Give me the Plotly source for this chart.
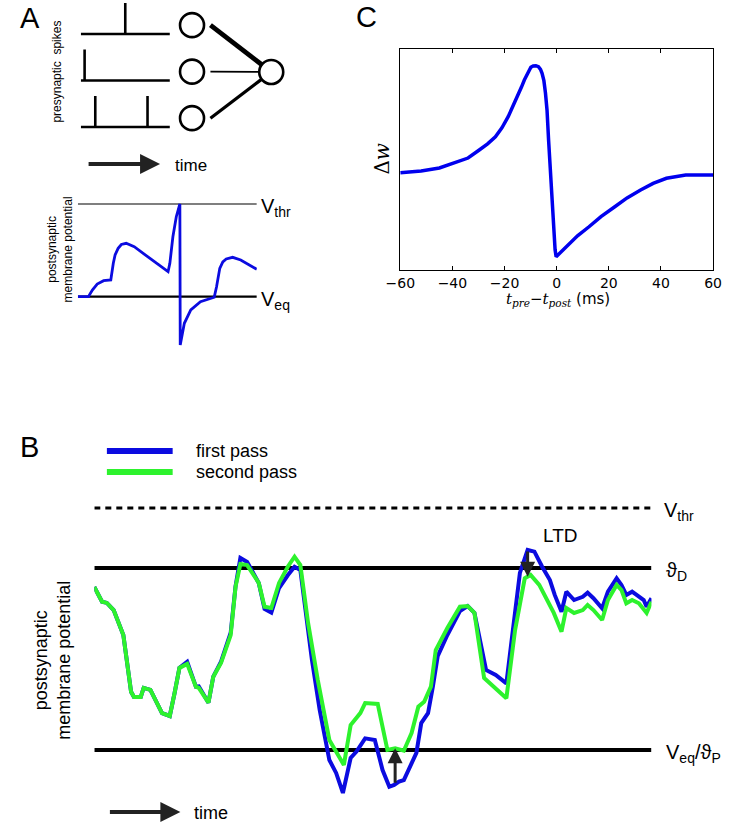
import numpy as np
import plotly.graph_objects as go

W, H = 733, 827
FONT = "Liberation Sans, Arial, sans-serif"
BLUE = "#0b0be0"
GREEN = "#2df22d"
DARK = "#222222"

# ---------------- Panel A (top): presynaptic spike trains ----------------
train_length = 10.0
row_levels = [2, 1, 0]
spike_times = [[5.0], [0.43], [1.63, 7.5]]
spike_height = 0.667
syn_weights = [3.0, 1.0, 2.0]

# ---------------- Panel A (bottom): postsynaptic membrane potential ------
psp_t = [0, 5.9, 8.1, 10.8, 14.4, 18.4, 19.8, 20.8, 22.5, 24.3, 27.0, 31.5, 40.5,
         50.4, 51.4, 53.1, 55.0, 56.8, 57.0, 57.2, 59.5, 63.1, 68.5, 76.2, 77.5,
         79.3, 81.0, 82.9, 86.5, 91.0, 100]
psp_v = [0, 0, 0.072, 0.137, 0.173, 0.180, 0.360, 0.45, 0.522, 0.563, 0.576, 0.539, 0.41,
         0.270, 0.360, 0.647, 0.863, 1.0, 1.0, -0.521, -0.287, -0.143, -0.054, -0.006, 0.108,
         0.306, 0.375, 0.407, 0.425, 0.396, 0.296]
V_eq_A, V_thr_A = 0.0, 1.0

# ---------------- Panel C: STDP window ----------------
stdp_dt = [-60, -52, -45, -39.6, -34, -29.7, -26.5, -23.5, -21, -18.6, -16.7, -14.9, -13.5, -12.4,
           -11.1, -9.9, -9.0, -8.0, -7.0, -6.2, -5.6, -4.9, -4.3, -3.7, -3.1, -2.5, -1.9, -1.2,
           -0.6, -0.2, 2, 4.9, 8, 12.4, 17, 22.3, 27, 32.2, 37, 42.1, 46, 49.5, 55, 60]
stdp_dw = [0.0, 0.016, 0.044, 0.088, 0.137, 0.212, 0.27, 0.336, 0.42, 0.523, 0.62, 0.726, 0.80, 0.866,
           0.935, 0.985, 0.998, 1.0, 0.99, 0.965, 0.929, 0.86, 0.745, 0.586, 0.306, 0.056, -0.255, -0.566,
           -0.72, -0.785, -0.735, -0.660, -0.59, -0.505, -0.41, -0.318, -0.235, -0.162,
           -0.10, -0.052, -0.032, -0.022, -0.021, -0.021]
c_ticks = [-60, -40, -20, 0, 20, 40, 60]
c_ticktext = ["−60", "−40", "−20", "0", "20", "40", "60"]

# ---------------- Panel B: two passes of membrane potential ----------------
theta_P = 0.0      # = V_eq
theta_D = 10.0
V_thr_B = 13.3

first_t = [0, 8, 13, 20, 30, 38, 41, 48, 51, 58, 70, 78, 83, 88, 96, 105, 108, 118, 123, 131,
           141, 146, 151, 158, 170, 176, 183, 191, 200, 207, 213, 221, 225, 233, 241, 243, 250,
           257, 265, 271, 280, 290, 298, 305, 310, 315, 320, 326, 333, 338, 345, 350, 355, 365,
           378, 386, 393, 405, 415, 426, 433, 440, 448, 455, 463, 471, 476, 483, 488, 496, 505,
           510, 516, 525, 531, 540, 545, 550, 556, 563, 568, 571, 576]
first_v = [8.96, 8.15, 8.08, 7.69, 6.32, 3.2, 2.91, 2.91, 3.41, 3.30, 2.03, 1.87, 3.13, 4.51, 4.85,
           3.48, 3.5, 2.60, 4.03, 4.85, 6.45, 9.0, 10.55, 10.33, 9.18, 7.75, 7.55, 8.9, 9.6, 10.07,
           9.89, 6.4, 4.95, 2.2, 0.0, -0.55, -1.26, -2.36, -0.44, -0.09, 0.64, 0.55, -1.10, -2.02,
           -1.92, -1.74, -1.65, -0.92, -0.16, 1.48, 2.02, 3.48, 5.16, 6.32, 7.64, 7.91, 7.53, 4.40,
           4.12, 3.66, 6.77, 9.73, 10.99, 10.90, 10.07, 9.34, 8.52, 7.60, 8.70, 8.24, 8.42, 8.64,
           8.34, 7.79, 8.70, 9.43, 9.07, 8.52, 8.70, 8.42, 8.24, 7.87, 8.34]

second_t = [0, 8, 13, 20, 30, 38, 41, 48, 51, 58, 70, 78, 83, 88, 96, 105, 108, 118, 123, 131,
            141, 146, 151, 158, 170, 176, 183, 191, 200, 207, 213, 221, 231, 243, 258, 265, 275,
            280, 293, 303, 311, 320, 328, 335, 341, 348, 353, 365, 378, 386, 393, 403, 426, 435,
            445, 451, 460, 468, 475, 483, 488, 496, 505, 510, 516, 525, 531, 540, 545, 550, 556,
            563, 571, 576]
second_v = [8.96, 8.15, 8.08, 7.69, 6.32, 3.2, 2.91, 2.91, 3.41, 3.30, 2.03, 1.87, 3.13, 4.51, 4.73,
            3.48, 3.41, 2.60, 4.03, 4.78, 6.32, 8.97, 10.22, 10.16, 9.18, 7.87, 7.80, 9.18, 10.07,
            10.62, 10.16, 6.98, 3.85, 0.55, -0.82, 1.37, 2.03, 2.58, 2.53, 0.0, 0.09, -0.04, 0.93,
            2.38, 2.65, 3.48, 5.49, 6.70, 7.87, 7.91, 7.53, 3.96, 2.84, 6.59, 9.43, 9.62, 9.07, 8.24,
            7.53, 6.50, 7.80, 7.53, 7.69, 7.97, 7.69, 7.14, 8.24, 9.07, 8.79, 8.06, 8.24, 8.06,
            7.53, 8.15]
ltp_time = 311
ltd_time = 448
assert len(first_t) == len(first_v) and len(second_t) == len(second_v)
assert len(psp_t) == len(psp_v) and len(stdp_dt) == len(stdp_dw)


def px(x):
    return x / W


def py(y):
    return 1 - y / H


fig = go.Figure()

# ---------- Panel A top ----------
xs, ys = [], []
for lvl, times in zip(row_levels, spike_times):
    xs += [0, train_length, None]
    ys += [lvl, lvl, None]
    for t in times:
        xs += [t, t, None]
        ys += [lvl, lvl + spike_height, None]
fig.add_trace(go.Scatter(x=xs, y=ys, mode="lines", line=dict(color="black", width=2.6),
                         xaxis="x", yaxis="y", hoverinfo="skip"))

A_xr = [0, 23.04]
A_yr = [-0.28, 2.731]
sx = (280 - 68) / (A_xr[1] - A_xr[0])
sy = 140 / (A_yr[1] - A_yr[0])
pre_x = 12.5
pre_y = [lvl + 0.19 for lvl in row_levels]
out_x, out_y = 21.4, 1.183
conn_start_x = 14.57
r_px = 12.5
for yv, w in zip(pre_y, syn_weights):
    dx = (out_x - conn_start_x) * sx
    dy = (out_y - yv) * sy
    d = np.hypot(dx, dy)
    ex = out_x - r_px * dx / d / sx
    ey = out_y - r_px * dy / d / sy
    fig.add_trace(go.Scatter(x=[conn_start_x, ex], y=[yv, ey], mode="lines",
                             line=dict(color="black", width=1.6 * w),
                             xaxis="x", yaxis="y", hoverinfo="skip"))
fig.add_trace(go.Scatter(x=[pre_x] * 3 + [out_x], y=pre_y + [out_y], mode="markers",
                         marker=dict(symbol="circle-open", size=24, color="black",
                                     line=dict(width=2.6, color="black")),
                         xaxis="x", yaxis="y", hoverinfo="skip"))

# ---------- Panel A bottom ----------
fig.add_trace(go.Scatter(x=[0, 100], y=[V_thr_A, V_thr_A], mode="lines",
                         line=dict(color="black", width=1.1), xaxis="x2", yaxis="y2"))
fig.add_trace(go.Scatter(x=[0, 100], y=[V_eq_A, V_eq_A], mode="lines",
                         line=dict(color="black", width=2.2), xaxis="x2", yaxis="y2"))
fig.add_trace(go.Scatter(x=psp_t, y=psp_v, mode="lines",
                         line=dict(color=BLUE, width=2.8), xaxis="x2", yaxis="y2"))

# ---------- Panel C ----------
fig.add_trace(go.Scatter(x=stdp_dt, y=stdp_dw, mode="lines",
                         line=dict(color="#0000ee", width=3.5), xaxis="x3", yaxis="y3"))

# ---------- Panel B ----------
tB = [0, max(first_t)]
fig.add_trace(go.Scatter(x=tB, y=[V_thr_B] * 2, mode="lines",
                         line=dict(color="black", width=3, dash="6px,5px"), xaxis="x4", yaxis="y4"))
fig.add_trace(go.Scatter(x=tB, y=[theta_D] * 2, mode="lines",
                         line=dict(color="black", width=4), xaxis="x4", yaxis="y4"))
fig.add_trace(go.Scatter(x=tB, y=[theta_P] * 2, mode="lines",
                         line=dict(color="black", width=4), xaxis="x4", yaxis="y4"))
fig.add_trace(go.Scatter(x=first_t, y=first_v, mode="lines",
                         line=dict(color=BLUE, width=4), xaxis="x4", yaxis="y4"))
fig.add_trace(go.Scatter(x=second_t, y=second_v, mode="lines",
                         line=dict(color=GREEN, width=4), xaxis="x4", yaxis="y4"))


def hidden(domain, rng, anchor):
    return dict(domain=domain, range=rng, visible=False, fixedrange=True,
                showgrid=False, zeroline=False, anchor=anchor)


B_yr = [(750 - 800) / 18.2, (750 - 490) / 18.2]

ann = []


def txt(text, x, y, size, xanchor="center", yanchor="middle", angle=0, family=FONT, color="black"):
    ann.append(dict(text=text, x=px(x), y=py(y), xref="paper", yref="paper", showarrow=False,
                    xanchor=xanchor, yanchor=yanchor, textangle=angle,
                    font=dict(size=size, family=family, color=color)))


def h_arrow(x0, x1, y):
    ann.append(dict(text="", x=px(x1), y=py(y), xref="paper", yref="paper",
                    ax=-(x1 - x0), ay=0, axref="pixel", ayref="pixel", showarrow=True,
                    arrowhead=2, arrowwidth=4, arrowsize=1.0, arrowcolor=DARK, standoff=0))


# Panel letters
txt("A", 3, 18, 29, xanchor="left")
txt("C", 350, 17, 29, xanchor="left")
txt("B", 3, 447, 29, xanchor="left")

# Panel A texts
txt("presynaptic  spikes", 43, 72, 12, angle=-90)
h_arrow(77, 150, 164)
txt("time", 163, 165, 17, xanchor="left")
txt("postsynaptic<br>membrane potential", 47, 249, 12, angle=-90)
txt("V<sub>thr</sub>", 252, 207, 20, xanchor="left")
txt("V<sub>eq</sub>", 252, 300, 20, xanchor="left")

# Panel C texts
txt('<span style="font-family:DejaVu Serif">Δ<i>w</i></span>', 379, 159, 20, angle=-90)
txt('<span style="font-family:DejaVu Serif"><i>t<sub>pre</sub></i>−<i>t<sub>post</sub></i></span> (ms)',
    561, 299, 15, family="DejaVu Sans")

# Panel B texts
txt("first pass", 185, 451, 18, xanchor="left")
txt("second pass", 185, 472, 18, xanchor="left")
txt("V<sub>thr</sub>", 669, 511, 20, xanchor="left")
txt("ϑ<sub>D</sub>", 671, 571, 20, xanchor="left")
txt("V<sub>eq</sub>/ϑ<sub>P</sub>", 671, 753, 20, xanchor="left")
txt("LTD", 563, 535, 19)
txt("postsynaptic<br>membrane potential", 38, 660, 18, angle=-90)
h_arrow(99, 171, 812)
txt("time", 183, 813, 18, xanchor="left")

# LTP / LTD arrows derived from the data
for tt in (ltp_time, ltd_time):
    tail = float(np.interp(tt, first_t, first_v))
    head = float(np.interp(tt, second_t, second_v))
    ann.append(dict(text="", x=tt, y=head, xref="x4", yref="y4", ax=tt, ay=tail,
                    axref="x4", ayref="y4", showarrow=True, arrowhead=2, arrowwidth=3,
                    arrowsize=1.0, arrowcolor=DARK, standoff=0))

shapes = [
    dict(type="line", xref="paper", yref="paper", x0=px(95), x1=px(163), y0=py(451), y1=py(451),
         line=dict(color=BLUE, width=6)),
    dict(type="line", xref="paper", yref="paper", x0=px(95), x1=px(163), y0=py(472), y1=py(472),
         line=dict(color=GREEN, width=6)),
]

fig.update_layout(
    width=W, height=H, margin=dict(l=0, r=0, t=0, b=0),
    paper_bgcolor="white", plot_bgcolor="rgba(0,0,0,0)", showlegend=False,
    hovermode=False,
    xaxis=hidden([px(68), px(280)], A_xr, "y"),
    yaxis=hidden([py(140), py(0)], A_yr, "x"),
    xaxis2=hidden([px(65), px(250)], [0, 100], "y2"),
    yaxis2=hidden([py(350), py(195)], [-0.575, 1.097], "x2"),
    xaxis3=dict(domain=[px(398.3), px(721.7)], range=[-60, 60], anchor="y3",
                showline=True, linecolor="black", linewidth=1, mirror="ticks",
                ticks="inside", ticklen=4, tickcolor="black", tickwidth=1,
                tickvals=c_ticks, ticktext=c_ticktext, showgrid=False, zeroline=False,
                tickfont=dict(family="DejaVu Sans", size=14, color="black")),
    yaxis3=dict(domain=[py(270), py(49.3)], range=[-0.909, 1.153], anchor="x3",
                showline=True, linecolor="black", linewidth=1, mirror=True,
                ticks="", showticklabels=False, showgrid=False, zeroline=False),
    xaxis4=hidden([px(82), px(658)], [0, 576], "y4"),
    yaxis4=hidden([py(800), py(490)], B_yr, "x4"),
    annotations=ann, shapes=shapes,
)

fig.write_html("out.html", config={"displayModeBar": False},
               post_script="document.body.style.margin='0';document.body.style.overflow='hidden';")
